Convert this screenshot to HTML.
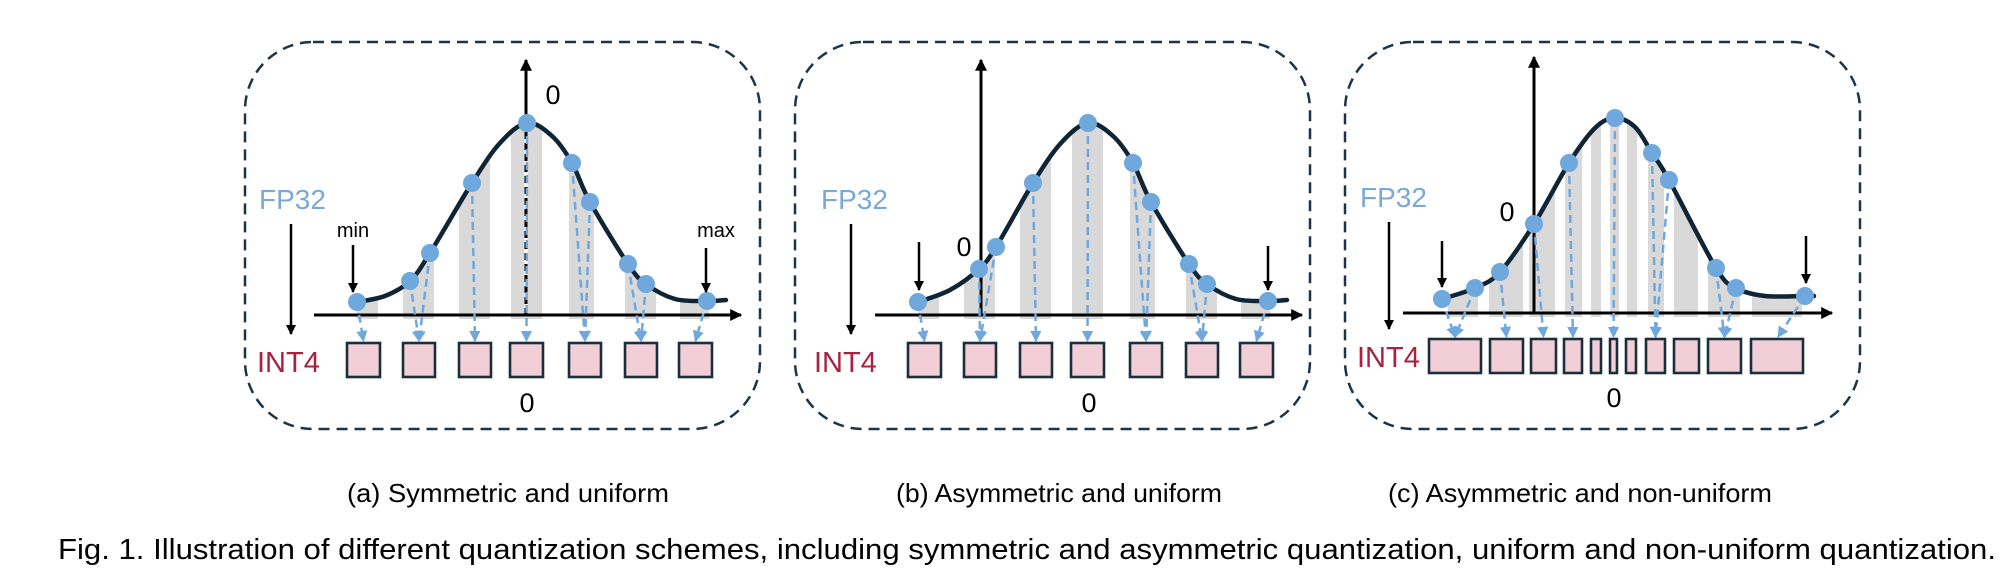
<!DOCTYPE html>
<html><head><meta charset="utf-8">
<style>
html,body{margin:0;padding:0;background:#fff;}
svg{display:block;}
text{font-family:"Liberation Sans",Arial,sans-serif;}
</style></head>
<body>
<svg id="s" width="2006" height="578" viewBox="0 0 2006 578" xmlns="http://www.w3.org/2000/svg">
<defs>
<marker id="ab" viewBox="0 0 10 10" refX="9" refY="5" markerWidth="4" markerHeight="4" orient="auto"><path d="M0,0L10,5L0,10z" fill="#000"/></marker>
<marker id="ablue" viewBox="0 0 10 10" refX="9" refY="5" markerWidth="4.5" markerHeight="4.5" orient="auto"><path d="M0,0L10,5L0,10z" fill="#6fa8dc"/></marker>
</defs>
<g id="g"></g>
<text x="508" y="502" font-size="26" text-anchor="middle" textLength="322" lengthAdjust="spacingAndGlyphs">(a) Symmetric and uniform</text>
<text x="1059" y="502" font-size="26" text-anchor="middle" textLength="326" lengthAdjust="spacingAndGlyphs">(b) Asymmetric and uniform</text>
<text x="1580" y="502" font-size="26" text-anchor="middle" textLength="384" lengthAdjust="spacingAndGlyphs">(c) Asymmetric and non-uniform</text>
<text x="58" y="559" font-size="29" textLength="1938" lengthAdjust="spacingAndGlyphs">Fig. 1. Illustration of different quantization schemes, including symmetric and asymmetric quantization, uniform and non-uniform quantization.</text>
</svg>
<script>
var g=document.getElementById('g'),h='';
function cr(p){var d='M'+p[0][0]+','+p[0][1];for(var i=0;i<p.length-1;i++){var p0=p[i-1]||p[i],p1=p[i],p2=p[i+1],p3=p[i+2]||p2;
d+=' C'+(p1[0]+(p2[0]-p0[0])/6)+','+(p1[1]+(p2[1]-p0[1])/6)+' '+(p2[0]-(p3[0]-p1[0])/6)+','+(p2[1]-(p3[1]-p1[1])/6)+' '+p2[0]+','+p2[1];}return d;}
function sh(a,dx){return a.map(function(p){return [p[0]+dx,p[1]];});}
function shb(a,dx){return a.map(function(p){return [p[0]+dx,p[1]+dx];});}
function panel(o){
 var id='c'+o.bx;
 h+='<rect x="'+o.bx+'" y="42" width="515" height="387" rx="68" fill="none" stroke="#1d3446" stroke-width="2.5" stroke-dasharray="11 7"/>';
 var cd=cr(o.curve),last=o.curve[o.curve.length-1],first=o.curve[0];
 h+='<clipPath id="'+id+'"><path d="'+cd+' L'+last[0]+','+(o.ay+4)+' L'+first[0]+','+(o.ay+4)+'z"/></clipPath>';
 h+='<g clip-path="url(#'+id+')">';
 o.bars.forEach(function(b){h+='<rect x="'+b[0]+'" y="90" width="'+(b[1]-b[0])+'" height="'+(o.ay+4-90)+'" fill="#d9d9d9"/>';});
 h+='</g>';
 h+='<line x1="'+o.ax0+'" y1="'+o.ay+'" x2="'+o.ax1+'" y2="'+o.ay+'" stroke="#000" stroke-width="3" marker-end="url(#ab)"/>';
 h+='<line x1="'+o.yx+'" y1="'+o.ay+'" x2="'+o.yx+'" y2="'+o.yt+'" stroke="#000" stroke-width="3" marker-end="url(#ab)"/>';
 if(o.center) h+='<line x1="'+o.yx+'" y1="'+o.ay+'" x2="'+o.yx+'" y2="123" stroke="#fff" stroke-width="3"/><line x1="'+o.yx+'" y1="'+o.ay+'" x2="'+o.yx+'" y2="123" stroke="#000" stroke-width="3" stroke-dasharray="7 4"/>';
 h+='<path d="'+cd+'" fill="none" stroke="#0f2535" stroke-width="4.5" stroke-linecap="round"/>';
 o.map.forEach(function(m){var d=o.dots[m[0]],b=o.boxes[m[1]];var tx=m[2]!==undefined?m[2]:(b[0]+b[1])/2;
  h+='<line x1="'+d[0]+'" y1="'+d[1]+'" x2="'+tx+'" y2="'+(o.by-2)+'" stroke="#6fa8dc" stroke-width="2.5" stroke-dasharray="8 5" marker-end="url(#ablue)"/>';});
 o.dots.forEach(function(d){h+='<circle cx="'+d[0]+'" cy="'+d[1]+'" r="9" fill="#6fa8dc"/>';});
 o.boxes.forEach(function(b){h+='<rect x="'+b[0]+'" y="'+o.by+'" width="'+(b[1]-b[0])+'" height="34" fill="#f2cfd6" stroke="#1a2e3b" stroke-width="2.6"/>';});
 h+='<text x="'+o.fx+'" y="'+o.fy+'" font-size="28" fill="#79a9d9">FP32</text>';
 h+='<text x="'+o.ix+'" y="'+o.iy+'" font-size="29" fill="#a8213f">INT4</text>';
 h+='<line x1="'+o.arx+'" y1="'+(o.fy+15)+'" x2="'+o.arx+'" y2="'+(o.iy-38)+'" stroke="#000" stroke-width="2.5" marker-end="url(#ab)"/>';
 o.zeros.forEach(function(z){h+='<text x="'+z[0]+'" y="'+z[1]+'" font-size="27" text-anchor="middle">0</text>';});
 o.arrows.forEach(function(a){h+='<line x1="'+a[0]+'" y1="'+a[1]+'" x2="'+a[0]+'" y2="'+a[2]+'" stroke="#000" stroke-width="2.5" marker-end="url(#ab)"/>';});
}
var aDots=[[357,302],[410,281],[430,253],[472,183],[527,123],[572,163],[590,202],[628,264],[646,284],[707,301]];
var aCurve=[[357,302],[385,296],[410,281],[430,253],[472,183],[500,143],[527,123],[552,136],[572,163],[590,202],[628,264],[646,284],[675,299],[707,301],[726,300]];
var aBars=[[357,378],[403,434],[459,490],[511,542],[569,594],[625,656],[680,709]];
var aBoxes=[[347,380],[403,435],[459,491],[510,543],[569,601],[625,657],[679,712]];
var aMap=[[0,0],[1,1],[2,1],[3,2],[4,3],[5,4],[6,4],[7,5],[8,5],[9,6]];
panel({bx:245,curve:aCurve,dots:aDots,bars:aBars,boxes:aBoxes,map:aMap,ax0:314,ax1:741,ay:315,yx:526,yt:60,center:true,by:343,
 fx:259,fy:209,ix:257,iy:372,arx:291,zeros:[[553,104],[527,412]],arrows:[[353,245,292],[706,248,292]]});
h+='<text x="353" y="237" font-size="20" text-anchor="middle">min</text><text x="716" y="237" font-size="20" text-anchor="middle">max</text>';
var bDots=sh(aDots,561);bDots[1]=[979,269];bDots[2]=[996,247];
var bCurve=sh(aCurve,561);bCurve[2]=[979,269];bCurve[3]=[996,247];bCurve[1]=[950,290];
panel({bx:795,curve:bCurve,dots:bDots,bars:shb(aBars,561),boxes:shb(aBoxes,561),map:aMap,ax0:875,ax1:1302,ay:315,yx:981,yt:60,center:false,by:343,
 fx:821,fy:209,ix:814,iy:372,arx:851,zeros:[[964,256],[1089,412]],arrows:[[919,242,290],[1268,246,290]]});
var cDots=[[1442,299],[1475,288],[1500,272],[1534,224],[1569,163],[1615,118],[1652,153],[1669,180],[1716,268],[1736,288],[1805,296]];
var cCurve=[[1442,299],[1475,288],[1500,272],[1534,224],[1569,163],[1595,128],[1615,118],[1635,127],[1652,153],[1669,180],[1716,268],[1736,288],[1765,296],[1805,296],[1814,296]];
var cBoxes=[[1429,1481],[1490,1523],[1531,1556],[1564,1582],[1591,1601],[1610,1617],[1626,1636],[1646,1665],[1674,1699],[1708,1741],[1751,1803]];
var cBars=[[1448,1478],[1489,1523],[1529,1555],[1565,1582],[1591,1601],[1610,1619],[1627,1637],[1648,1664],[1674,1698],[1708,1740],[1752,1802]];
var cMap=[[0,0,1455],[1,0,1455],[2,1],[3,2],[4,3],[5,5],[6,7],[7,7],[8,9],[9,9],[10,10,1778]];
panel({bx:1345,curve:cCurve,dots:cDots,bars:cBars,boxes:cBoxes,map:cMap,ax0:1403,ax1:1832,ay:313,yx:1534,yt:57,center:false,by:339,
 fx:1360,fy:207,ix:1357,iy:367,arx:1389,zeros:[[1507,221],[1614,407]],arrows:[[1442,241,287],[1806,236,283]]});
g.innerHTML=h;
</script>
</body></html>
